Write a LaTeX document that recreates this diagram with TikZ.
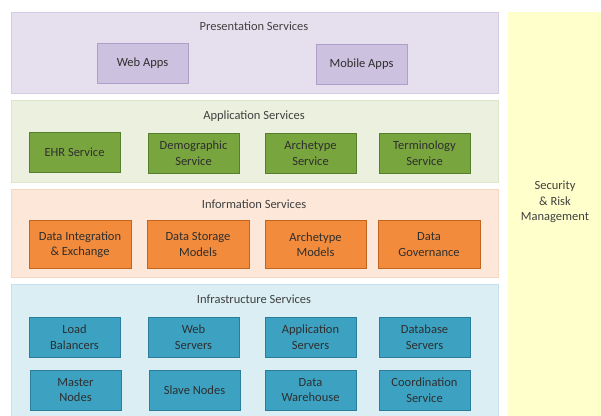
\documentclass[tikz,border=0pt]{standalone}
\usepackage{fontspec}
\setmainfont{Carlito}
\begin{document}
\begin{tikzpicture}[x=1pt,y=-1pt,
  band/.style={line width=0.8pt},
  title/.style={text=black!75, font=\fontsize{12.5}{15.5}\selectfont},
  box/.style={line width=1pt, align=center, text=black!82, font=\fontsize{12.5}{15.5}\selectfont, inner sep=0pt},
  pbox/.style={box, fill=pfill, draw=pdraw},
  gbox/.style={box, fill=gfill, draw=gdraw},
  obox/.style={box, fill=ofill, draw=odraw},
  bbox/.style={box, fill=bfill, draw=bdraw}]
\definecolor{pband}{HTML}{E6E0EE}\definecolor{pbandd}{HTML}{D4CCE2}
\definecolor{gband}{HTML}{EBF1DE}\definecolor{gbandd}{HTML}{DCE6C8}
\definecolor{oband}{HTML}{FCE7D8}\definecolor{obandd}{HTML}{F6D7C0}
\definecolor{bband}{HTML}{DBEEF4}\definecolor{bbandd}{HTML}{C5E2EC}
\definecolor{yband}{HTML}{FFFFCC}
\definecolor{pfill}{HTML}{CCC1DE}\definecolor{pdraw}{HTML}{AE9FC8}
\definecolor{gfill}{HTML}{79A53F}\definecolor{gdraw}{HTML}{557F2C}
\definecolor{ofill}{HTML}{F28C3C}\definecolor{odraw}{HTML}{C4651F}
\definecolor{bfill}{HTML}{3DA2C2}\definecolor{bdraw}{HTML}{2A7E9B}
\useasboundingbox[fill=white] (0,0) rectangle (601,415);
% bands
\path[band, fill=pband, draw=pbandd] (11,12) rectangle (498,93);
\path[band, fill=gband, draw=gbandd] (11,100) rectangle (498,182);
\path[band, fill=oband, draw=obandd] (11,189) rectangle (498,277);
\path[band, fill=bband, draw=bbandd] (11,284) rectangle (498,416);
\path[fill=yband] (508,12) rectangle (601,416);
% titles
\node[title] (tp) at (254,26) {Presentation Services};
\node[title] (ta) at (254,116) {Application Services};
\node[title] (ti) at (254,204) {Information Services};
\node[title] (tf) at (254,299) {Infrastructure Services};
\node[title, align=center] (sec) at (555,202) {Security\\\& Risk\\Management};
% presentation
\node[pbox, minimum width=91, minimum height=40] (web) at (142.5,63) {Web Apps};
\node[pbox, minimum width=91, minimum height=40] (mob) at (361.5,64) {Mobile Apps};
% application
\node[gbox, minimum width=91, minimum height=40] (ehr) at (74.5,152) {EHR Service};
\node[gbox, minimum width=91, minimum height=40] (demo) at (193.5,153) {Demographic\\Service};
\node[gbox, minimum width=91, minimum height=40] (arch) at (310.5,153) {Archetype\\Service};
\node[gbox, minimum width=91, minimum height=40] (term) at (424.5,153) {Terminology\\Service};
% information
\node[obox, minimum width=102, minimum height=48] (dint) at (80,244.5) {Data Integration\\\& Exchange};
\node[obox, minimum width=102, minimum height=48] (dsto) at (198,244.5) {Data Storage\\Models};
\node[obox, minimum width=101, minimum height=48] (amod) at (315.5,244.5) {Archetype\\Models};
\node[obox, minimum width=102, minimum height=48] (dgov) at (429,244.5) {Data\\Governance};
% infrastructure
\node[bbox, minimum width=91, minimum height=40] (lb) at (74.5,337) {Load\\Balancers};
\node[bbox, minimum width=91, minimum height=40] (ws) at (193.5,337) {Web\\Servers};
\node[bbox, minimum width=91, minimum height=40] (as) at (310.5,337) {Application\\Servers};
\node[bbox, minimum width=91, minimum height=40] (db) at (424.5,337) {Database\\Servers};
\node[bbox, minimum width=91, minimum height=40] (mn) at (75.5,390) {Master\\Nodes};
\node[bbox, minimum width=91, minimum height=40] (sn) at (194.5,390) {Slave Nodes};
\node[bbox, minimum width=91, minimum height=40] (dw) at (310.5,390) {Data\\Warehouse};
\node[bbox, minimum width=91, minimum height=40] (cs) at (424.5,390) {Coordination\\Service};
\end{tikzpicture}
\end{document}
